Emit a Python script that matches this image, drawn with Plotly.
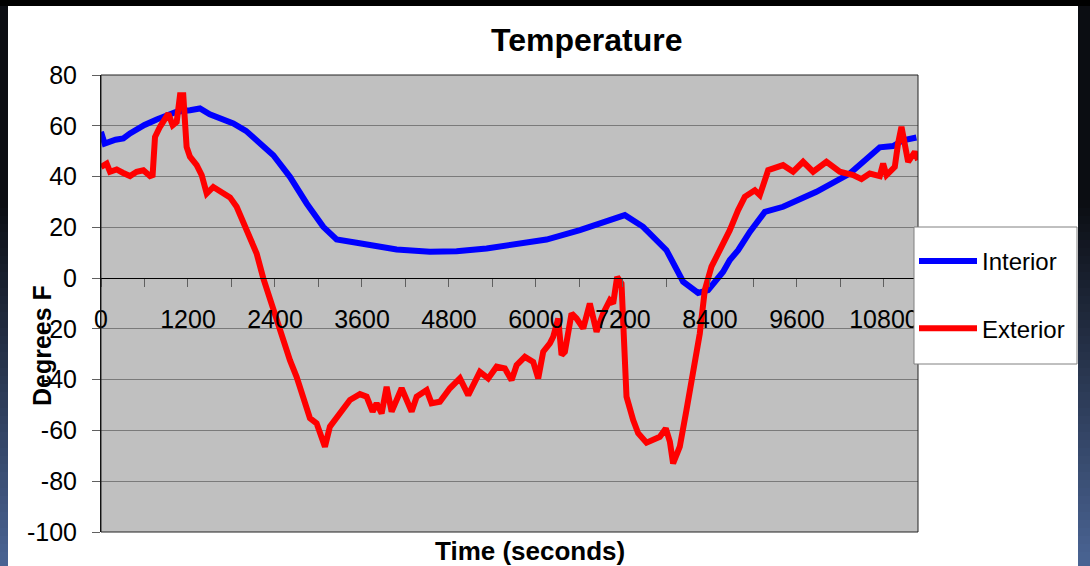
import plotly.graph_objects as go

# ---- data ----
time_interior = [0, 50, 200, 308, 400, 538, 600, 768, 900, 1044, 1227, 1365, 1500, 1687, 1825,
                 2000, 2147, 2377, 2606, 2837, 3066, 3250, 3526, 3893, 4078, 4537, 4905, 5319,
                 5686, 6146, 6606, 7065, 7226, 7478, 7800, 8030, 8237, 8375, 8582, 8674, 8789,
                 8950, 9157, 9409, 9869, 10329, 10559, 10743, 10926, 11064, 11248]
temp_interior = [57.6, 53, 54.5, 55, 57, 59.6, 60.3, 62.5, 64, 65.5, 66.1, 66.8, 64.5, 62.5, 60.9,
                 58, 54.3, 48.4, 39.9, 29.4, 20.2, 15.2, 13.9, 12.3, 11.3, 10.4, 10.6, 11.7,
                 13, 15.2, 18.9, 23.1, 24.8, 20.2, 11, -1.4, -5.8, -4.7, 2.5, 7.1, 11,
                 18.2, 26.1, 28.1, 34, 41.2, 47.1, 51.5, 52, 54.3, 55.4]

time_exterior = [0, 78, 124, 216, 300, 400, 492, 584, 676, 712, 745, 814, 929, 989, 1044, 1090,
                 1135, 1181, 1227, 1320, 1389, 1458, 1549, 1641, 1779, 1871, 1963, 2055, 2147,
                 2238, 2468, 2606, 2698, 2790, 2882, 2974, 3089, 3158, 3296, 3434, 3572, 3664,
                 3747, 3802, 3871, 3940, 4009, 4147, 4285, 4354, 4492, 4560, 4675, 4813, 4951,
                 5066, 5226, 5341, 5457, 5571, 5664, 5733, 5847, 5962, 6031, 6100, 6192, 6238,
                 6307, 6353, 6399, 6491, 6560, 6652, 6743, 6836, 6927, 7019, 7065, 7120, 7180,
                 7203, 7249, 7341, 7410, 7525, 7617, 7709, 7791, 7847, 7892, 7984, 8076, 8168,
                 8260, 8329, 8421, 8536, 8674, 8789, 8881, 9019, 9088, 9203, 9409, 9547, 9685,
                 9823, 10007, 10191, 10375, 10490, 10605, 10743, 10789, 10835, 10950, 10995,
                 11042, 11134, 11226, 11271]
temp_exterior = [43.8, 45.1, 41.9, 42.8, 41.5, 40.2, 41.9, 42.5, 40.2, 40.6, 55.6, 59.6, 64.8,
                 60.2, 61.5, 72, 72, 51.7, 47.8, 44.5, 40.6, 33.3, 35.9, 34, 31.8, 28.1, 22.2,
                 16.9, 9.7, 0, -20.5, -32.3, -38.9, -48, -55.2, -57.2, -66.4, -58.5, -53.3, -48,
                 -45.7, -46.7, -52.6, -49.3, -53.3, -42.8, -52.6, -43.4, -52.6, -46.7, -44.1,
                 -49.3, -48.7, -43.4, -39.5, -46.1, -36.9, -39.5, -34.9, -35.6, -40.2, -34.3,
                 -31, -33, -39.5, -29, -25.7, -23.1, -15.9, -30.3, -29, -13.9, -15.9, -19.8,
                 -10, -21.1, -13.9, -8.7, -10, 0.5, -2.1, -23.1, -46.7, -55.9, -61.1, -64.8,
                 -63.8, -62.5, -59.2, -64.4, -73, -66.4, -52, -37.5, -21.8, -4.7, 4.5, 11,
                 18.9, 26.8, 32, 34.6, 32.7, 42.5, 44.5, 41.9, 45.8, 41.9, 45.8, 41.9, 40.6,
                 39, 41.2, 40.2, 45.1, 40.6, 43.8, 53, 59.6, 45.8, 49.7, 46.5]

x_tick_values = list(range(0, 10801, 600))
x_tick_labels = [str(v) if v % 1200 == 0 else "" for v in x_tick_values]
y_tick_values = list(range(-100, 81, 20))
y_tick_labels = [str(v) for v in y_tick_values]

# ---- layout geometry (pixels) ----
W, H = 1090, 566
L, R, T, B = 101, 918, 75, 532
pw, ph = R - L, B - T


def px(x):
    return (x - L) / pw


def py(y):
    return (B - y) / ph


FONT = "Liberation Sans, Arial, sans-serif"

fig = go.Figure()
fig.add_trace(go.Scatter(x=time_interior, y=temp_interior, mode="lines", name="Interior",
                         line=dict(color="#0000ff", width=6), legendgroup="a"))
fig.add_trace(go.Scatter(x=time_exterior, y=temp_exterior, mode="lines", name="Exterior",
                         line=dict(color="#ff0000", width=6), legendgroup="b"))

shapes = []


def band_color(yc):
    if yc < 200:
        return "#0b0d12"
    f = (yc - 200) / (566 - 200)
    c0 = (11, 13, 18)
    c1 = (74, 100, 148)
    return "rgb(%d,%d,%d)" % tuple(round(a + (b - a) * f) for a, b in zip(c0, c1))


for y0 in range(0, H, 8):
    y1 = min(y0 + 8, H)
    col = band_color((y0 + y1) / 2)
    for x0, x1 in ((0, 8), (1078, W)):
        shapes.append(dict(type="rect", xref="paper", yref="paper", x0=px(x0), x1=px(x1),
                           y0=py(y1), y1=py(y0), fillcolor=col, line=dict(width=0),
                           layer="above"))
shapes.append(dict(type="rect", xref="paper", yref="paper", x0=px(0), x1=px(W), y0=py(6),
                   y1=py(0), fillcolor="#000000", line=dict(width=0), layer="above"))
# plot area border
shapes.append(dict(type="rect", xref="paper", yref="paper", x0=0, x1=1, y0=0, y1=1,
                   line=dict(color="#222222", width=1), layer="above"))
# legend box
shapes.append(dict(type="rect", xref="paper", yref="paper", x0=px(914), x1=px(1077),
                   y0=py(364), y1=py(227), fillcolor="white",
                   line=dict(color="#808080", width=1), layer="above"))

fig.update_layout(
    width=W, height=H,
    margin=dict(l=L, r=W - R, t=T, b=H - B),
    paper_bgcolor="white",
    plot_bgcolor="#c0c0c0",
    font=dict(family=FONT, size=25, color="black"),
    showlegend=True,
    legend=dict(x=px(914), y=py(239), xanchor="left", yanchor="top",
                bgcolor="rgba(0,0,0,0)", borderwidth=0,
                font=dict(size=24), tracegroupgap=33, traceorder="grouped",
                itemwidth=58),
    xaxis=dict(range=[0, 11270], tickmode="array", tickvals=x_tick_values,
               ticktext=x_tick_labels, ticks="outside", ticklen=8, tickcolor="#606060",
               showgrid=False, zeroline=False, showline=True, linecolor="black",
               linewidth=1, anchor="free", position=py(278), ticklabelstandoff=11,
               tickfont=dict(size=25)),
    yaxis=dict(range=[-100, 80], tickmode="array", tickvals=y_tick_values,
               ticktext=y_tick_labels, ticks="outside", ticklen=8,
               tickcolor="#606060", showgrid=True, gridcolor="#7a7a7a", gridwidth=1,
               zeroline=True, zerolinecolor="black", zerolinewidth=1,
               showline=True, linecolor="black", linewidth=1, ticklabelstandoff=10,
               tickfont=dict(size=25)),
    shapes=shapes,
    annotations=[
        dict(text="<b>Temperature</b>", xref="paper", yref="paper", x=px(586), y=py(40),
             showarrow=False, font=dict(size=32), xanchor="center", yanchor="middle"),
        dict(text="<b>Time (seconds)</b>", xref="paper", yref="paper", x=px(530), y=py(551),
             showarrow=False, font=dict(size=26), xanchor="center", yanchor="middle"),
        dict(text="<b>Degrees F</b>", xref="paper", yref="paper", x=px(42), y=py(346),
             showarrow=False, font=dict(size=25), textangle=-90,
             xanchor="center", yanchor="middle"),
    ],
)

fig.write_html("out.html", config={"displayModeBar": False},
               post_script="document.body.style.margin='0';document.body.style.overflow='hidden';")
